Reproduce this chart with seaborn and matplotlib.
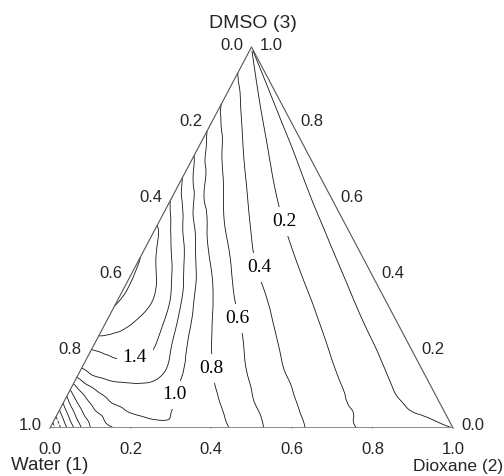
import numpy as np
import matplotlib
matplotlib.use("Agg")
import matplotlib.pyplot as plt
import matplotlib.tri as mtri
import seaborn as sns

# ---------------- data ----------------
# grid: u = position across a horizontal line (Water/DMSO side -> Dioxane/DMSO side),
#       x3 = DMSO mole fraction (height of the line)
u_cols = [0.0, 0.02, 0.04, 0.07, 0.10, 0.14, 0.19, 0.25, 0.32, 0.40, 0.50, 0.60, 0.70, 0.80, 0.90, 0.95, 1.0]
x3_rows = [0.0, 0.02, 0.04, 0.07, 0.10, 0.14, 0.19, 0.25, 0.33, 0.40, 0.50, 0.60, 0.70, 0.80, 0.90, 0.99]

z_row_000 = [-0.60, -0.29, -0.03, 0.32, 0.60, 0.76, 0.87, 0.945, 0.96, 0.875, 0.67, 0.46, 0.29, 0.15, 0.06, 0.03, 0.00]
z_row_002 = [-0.32, -0.06, 0.19, 0.49, 0.68, 0.84, 0.93, 0.995, 0.98, 0.86, 0.66, 0.455, 0.285, 0.14, 0.055, 0.01, -0.03]
z_row_004 = [-0.08, 0.16, 0.38, 0.64, 0.79, 0.90, 1.005, 1.03, 0.97, 0.85, 0.645, 0.445, 0.28, 0.15, 0.02, -0.02, -0.05]
z_row_007 = [0.25, 0.48, 0.65, 0.82, 0.93, 1.04, 1.09, 1.07, 0.96, 0.825, 0.615, 0.43, 0.28, 0.135, 0.00, -0.04, -0.07]
z_row_010 = [0.60, 0.77, 0.88, 1.00, 1.08, 1.135, 1.16, 1.10, 0.95, 0.805, 0.60, 0.42, 0.275, 0.13, -0.01, -0.05, -0.08]
z_row_014 = [1.07, 1.14, 1.205, 1.245, 1.27, 1.28, 1.265, 1.18, 0.94, 0.78, 0.575, 0.40, 0.265, 0.125, -0.01, -0.06, -0.09]
z_row_019 = [1.33, 1.355, 1.38, 1.405, 1.42, 1.42, 1.39, 1.20, 0.93, 0.76, 0.555, 0.385, 0.255, 0.12, -0.01, -0.06, -0.10]
z_row_025 = [1.64, 1.63, 1.61, 1.58, 1.535, 1.48, 1.42, 1.18, 0.92, 0.735, 0.54, 0.37, 0.245, 0.115, -0.015, -0.065, -0.11]
z_row_033 = [1.81, 1.78, 1.75, 1.71, 1.66, 1.58, 1.43, 1.15, 0.90, 0.69, 0.49, 0.35, 0.23, 0.105, -0.02, -0.07, -0.12]
z_row_040 = [1.85, 1.78, 1.74, 1.68, 1.615, 1.51, 1.32, 1.08, 0.845, 0.645, 0.44, 0.33, 0.21, 0.09, -0.02, -0.07, -0.12]
z_row_050 = [1.69, 1.65, 1.59, 1.49, 1.40, 1.27, 1.11, 0.90, 0.70, 0.565, 0.40, 0.29, 0.18, 0.075, -0.02, -0.06, -0.10]
z_row_060 = [1.39, 1.33, 1.27, 1.195, 1.12, 1.01, 0.84, 0.73, 0.61, 0.50, 0.37, 0.26, 0.16, 0.065, -0.02, -0.05, -0.08]
z_row_070 = [1.05, 1.013, 0.97, 0.90, 0.83, 0.765, 0.69, 0.607, 0.53, 0.44, 0.34, 0.25, 0.155, 0.065, -0.015, -0.04, -0.06]
z_row_080 = [0.74, 0.71, 0.68, 0.65, 0.62, 0.585, 0.55, 0.505, 0.445, 0.385, 0.31, 0.235, 0.155, 0.06, -0.01, -0.03, -0.05]
z_row_090 = [0.47, 0.46, 0.45, 0.44, 0.43, 0.415, 0.40, 0.38, 0.35, 0.32, 0.28, 0.225, 0.15, 0.064, -0.01, -0.03, -0.05]
z_row_099 = [0.30, 0.30, 0.30, 0.29, 0.29, 0.28, 0.27, 0.26, 0.25, 0.24, 0.22, 0.205, 0.15, 0.06, -0.01, -0.03, -0.05]

contour_levels = [-0.4, -0.2, 0.0, 0.2, 0.4, 0.6, 0.8, 1.0, 1.2, 1.4, 1.6, 1.8]
label_levels = [0.2, 0.4, 0.6, 0.8, 1.0, 1.4]
# label anchor spots (fractions of the drawing box)
label_spots = [(0.582, 0.542), (0.520, 0.421), (0.465, 0.287),
               (0.401, 0.156), (0.309, 0.087), (0.210, 0.185)]

tick_values = [0.0, 0.2, 0.4, 0.6, 0.8, 1.0]
tick_texts = ["0.0", "0.2", "0.4", "0.6", "0.8", "1.0"]
title_water = "Water (1)"
title_dioxane = "Dioxane (2)"
title_dmso = "DMSO (3)"

# ---------------- drawing ----------------
sns.set_theme(style="white")
plt.rcParams["font.family"] = ["Liberation Sans", "DejaVu Sans"]

fig = plt.figure(figsize=(5.04, 4.76), dpi=100)
ax = fig.add_axes([50 / 504, 48 / 476, 403 / 504, 381 / 476])
ax.set_xlim(0, 1)
ax.set_ylim(0, 1)
ax.axis("off")

z_rows = [z_row_000, z_row_002, z_row_004, z_row_007, z_row_010, z_row_014, z_row_019,
          z_row_025, z_row_033, z_row_040, z_row_050, z_row_060, z_row_070, z_row_080,
          z_row_090, z_row_099]
Z = np.array(z_rows, dtype=float)
U, X3 = np.meshgrid(np.array(u_cols), np.array(x3_rows))
nr, nc = Z.shape
tris = []
for i in range(nr - 1):
    for j in range(nc - 1):
        k = i * nc + j
        tris.append([k, k + 1, k + nc + 1])
        tris.append([k, k + nc + 1, k + nc])
# smooth (cubic) refinement on the (u, x3) grid, then map to the triangle
tri_uv = mtri.Triangulation(U.ravel(), X3.ravel(), np.array(tris))
interp = mtri.CubicTriInterpolator(tri_uv, Z.ravel(), kind="min_E")
tri_r, z_r = mtri.UniformTriRefiner(tri_uv).refine_field(Z.ravel(), triinterpolator=interp, subdiv=4)
ur, vr = tri_r.x, tri_r.y
tri_xy = mtri.Triangulation(ur * (1 - vr) + 0.5 * vr, vr, tri_r.triangles)

ax.tricontour(tri_xy, z_r, levels=contour_levels, colors="#151515", linewidths=0.6, zorder=2)

for lv, (lx, ly) in zip(label_levels, label_spots):
    ax.text(lx, ly, f"{lv:.1f}", ha="center", va="center", fontsize=14,
            family=["Liberation Serif", "DejaVu Serif"], color="black", zorder=5,
            bbox=dict(boxstyle="square,pad=0.3", fc="white", ec="none"))

# triangle frame
ax.plot([0, 1], [0, 0], color="#8a8a8a", lw=1.4, zorder=3, solid_capstyle="butt")
ax.plot([0, 0.5], [0, 1], color="#555555", lw=0.8, zorder=3)
ax.plot([1, 0.5], [0, 1], color="#555555", lw=0.8, zorder=3)

tick_kw = dict(textcoords="offset pixels", ha="center", va="center", fontsize=12,
               zorder=6, bbox=dict(boxstyle="square,pad=0.05", fc="white", ec="none"))
for v, s in zip(tick_values, tick_texts):
    # bottom: Dioxane fraction
    ax.annotate(s, xy=(v, 0), xytext=(0, -21), **tick_kw)
    # left: Water fraction (1 at the Water corner)
    x3 = 1 - v
    ax.annotate(s, xy=(0.5 * x3, x3), xytext=(-20, 2), **tick_kw)
    # right: DMSO fraction
    ax.annotate(s, xy=(1 - 0.5 * v, v), xytext=(20, 2), **tick_kw)
    # small tick marks
    ax.annotate("", xy=(v, 0), xytext=(0, -3), textcoords="offset pixels",
                arrowprops=dict(arrowstyle="-", color="#666666", lw=0.7))
    ax.annotate("", xy=(0.5 * x3, x3), xytext=(-3, 0), textcoords="offset pixels",
                arrowprops=dict(arrowstyle="-", color="#666666", lw=0.7))
    ax.annotate("", xy=(1 - 0.5 * v, v), xytext=(3, 0), textcoords="offset pixels",
                arrowprops=dict(arrowstyle="-", color="#666666", lw=0.7))

ax.annotate(title_dmso, xy=(0.5, 1), xytext=(1, 24), textcoords="offset pixels",
            ha="center", va="center", fontsize=14, zorder=4)
ax.annotate(title_water, xy=(0, 0), xytext=(0, -38), textcoords="offset pixels",
            ha="center", va="center", fontsize=13.5, zorder=4)
ax.annotate(title_dioxane, xy=(1, 0), xytext=(50, -38), textcoords="offset pixels",
            ha="right", va="center", fontsize=12.5, zorder=4)

fig.savefig("out.png", dpi=100, facecolor="white")
